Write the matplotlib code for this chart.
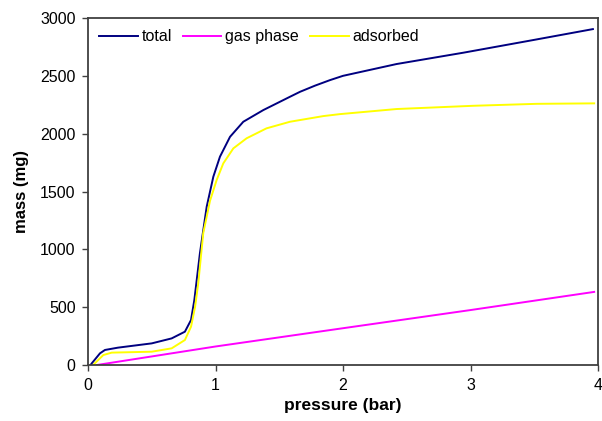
import matplotlib
matplotlib.use('AGG')
import matplotlib.pyplot as plt

# values
total_p = [0.02, 0.03, 0.094, 0.133, 0.235, 0.5, 0.656, 0.76, 0.808, 0.834, 0.878, 0.931,
           0.983, 1.035, 1.114, 1.218, 1.375, 1.584, 1.663, 1.78, 1.898, 2.0, 2.42, 2.944,
           3.49, 3.96]
total_m = [0, 15, 101, 130, 150, 187, 230, 288, 389, 562, 968, 1369,
           1628, 1801, 1973, 2103, 2204, 2319, 2362, 2415, 2463, 2500, 2602, 2700,
           2809, 2904]

ads_p = [0.04, 0.12, 0.186, 0.5, 0.656, 0.76, 0.808, 0.84, 0.865, 0.904, 0.957, 1.009,
         1.061, 1.14, 1.244, 1.40, 1.584, 1.846, 1.976, 2.42, 3.02, 3.52, 3.97]
ads_m = [0, 86, 107, 115, 144, 216, 331, 504, 709, 1141, 1420, 1599,
         1743, 1873, 1960, 2046, 2103, 2152, 2169, 2213, 2241, 2258, 2262]

gas_p = [0.07, 1.0, 2.0, 3.0, 3.97]
gas_m = [0, 160, 318, 475, 632]

plt.rcParams['font.family'] = ['Liberation Sans', 'DejaVu Sans']

fig = plt.figure(figsize=(6.02, 4.21), dpi=100)
ax = fig.add_axes([88 / 602, 56 / 421, 510 / 602, 347 / 421])

ax.plot(total_p, total_m, color='#000080', lw=1.4, label='total', solid_joinstyle='round')
ax.plot(gas_p, gas_m, color='#ff00ff', lw=1.4, label='gas phase')
ax.plot(ads_p, ads_m, color='#ffff00', lw=1.4, label='adsorbed', solid_joinstyle='round')

ax.set_xlim(0, 4)
ax.set_ylim(0, 3000)
ax.set_xticks([0, 1, 2, 3, 4])
ax.set_yticks(range(0, 3001, 500))
ax.tick_params(direction='out', length=4, width=1, color='#404040', labelsize=11.5, pad=5)
for s in ax.spines.values():
    s.set_color('#404040')
    s.set_linewidth(1.3)

ax.set_xlabel('pressure (bar)', fontsize=12.5, fontweight='bold', labelpad=4)
ax.set_ylabel('mass (mg)', fontsize=12, fontweight='bold', labelpad=8)

ax.legend(loc='upper left', ncol=3, frameon=False, fontsize=11.5,
          handlelength=2.4, handletextpad=0.25, columnspacing=0.7,
          borderaxespad=0.3, bbox_to_anchor=(0.0, 1.0))

fig.savefig('out.png', dpi=100)
plt.close(fig)
